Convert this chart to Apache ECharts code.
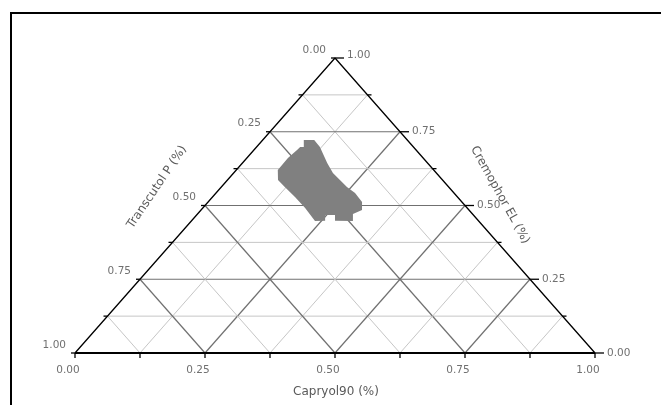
<!DOCTYPE html>
<html>
<head>
<meta charset="utf-8">
<script src="https://cdn.jsdelivr.net/npm/echarts@6/dist/echarts.min.js"></script>
<style>
html, body { margin: 0; padding: 0; background: #fff; }
#main { width: 661px; height: 405px; }
</style>
</head>
<body>
<div id="main"></div>
<script>
// 三元相图: Capryol90 / Transcutol P / Cremophor EL
var gridSteps = [0.125, 0.25, 0.375, 0.5, 0.625, 0.75, 0.875];
var tickValues = [0, 0.125, 0.25, 0.375, 0.5, 0.625, 0.75, 0.875, 1];
var labelValues = [0, 0.25, 0.5, 0.75, 1];
var tickLabels = ['0.00', '0.25', '0.50', '0.75', '1.00'];
var axisTitles = ['Capryol90 (%)', 'Transcutol P (%)', 'Cremophor EL (%)'];

// 灰色区域轮廓
var blobCapryol    = [0.079, 0.099, 0.122, 0.163, 0.191, 0.216, 0.242, 0.267, 0.296, 0.310, 0.299, 0.311, 0.276, 0.266, 0.247, 0.257, 0.238, 0.197, 0.159, 0.122, 0.097, 0.080, 0.079, 0.083, 0.084, 0.091];
var blobTranscutol = [0.199, 0.179, 0.180, 0.193, 0.199, 0.197, 0.196, 0.190, 0.192, 0.206, 0.230, 0.242, 0.276, 0.266, 0.285, 0.295, 0.315, 0.312, 0.313, 0.315, 0.316, 0.300, 0.260, 0.229, 0.218, 0.211];
var blobCremophor  = [0.722, 0.722, 0.698, 0.644, 0.610, 0.586, 0.563, 0.542, 0.512, 0.485, 0.471, 0.448, 0.448, 0.468, 0.468, 0.448, 0.448, 0.492, 0.529, 0.563, 0.586, 0.620, 0.661, 0.688, 0.698, 0.698];

// 三元坐标 -> 直角坐标
function tern(c, t, e) {
    var s = c + t + e;
    c = c / s; e = e / s;
    return [c + e / 2, e];
}
function isMajor(v) {
    return Math.abs(v * 4 - Math.round(v * 4)) < 1e-6 ? 1 : 0;
}

// 网格线
var gridLines = [];
gridSteps.forEach(function (v) {
    var m = isMajor(v);
    var a = tern(0, 1 - v, v), b = tern(1 - v, 0, v);          // Cremophor 等值
    gridLines.push([a[0], a[1], b[0], b[1], m]);
    a = tern(v, 1 - v, 0); b = tern(v, 0, 1 - v);              // Capryol 等值
    gridLines.push([a[0], a[1], b[0], b[1], m]);
    a = tern(1 - v, v, 0); b = tern(0, v, 1 - v);              // Transcutol 等值
    gridLines.push([a[0], a[1], b[0], b[1], m]);
});

// 刻度
var ticks = [];
tickValues.forEach(function (v) {
    var m = isMajor(v);
    var p = tern(v, 1 - v, 0); ticks.push([p[0], p[1], 0, m]);
    p = tern(0, v, 1 - v); ticks.push([p[0], p[1], 1, m]);
    p = tern(1 - v, 0, v); ticks.push([p[0], p[1], 2, m]);
});

// 刻度标签
var labels = [];
labelValues.forEach(function (v, i) {
    var p = tern(v, 1 - v, 0); labels.push([p[0], p[1], 0, i, v]);
    p = tern(0, v, 1 - v); labels.push([p[0], p[1], 1, i, v]);
    p = tern(1 - v, 0, v); labels.push([p[0], p[1], 2, i, v]);
});

var corners = [tern(0, 1, 0), tern(1, 0, 0), tern(0, 0, 1), tern(0, 1, 0)];
var blobPts = blobCapryol.map(function (c, i) {
    return tern(c, blobTranscutol[i], blobCremophor[i]);
});

var labelFont = '10.5px "DejaVu Sans"';
var labelColor = '#707070';
var titleFont = '12px "DejaVu Sans"';
var titleColor = '#5a5a5a';

var chart = echarts.init(document.getElementById('main'));
chart.setOption({
    animation: false,
    backgroundColor: '#fff',
    grid: { left: 75, top: 58, width: 520, height: 295 },
    xAxis: { type: 'value', min: 0, max: 1, show: false },
    yAxis: { type: 'value', min: 0, max: 1, show: false },
    graphic: [
        { type: 'line', shape: { x1: 11, y1: 13, x2: 661, y2: 13 }, style: { stroke: '#000', lineWidth: 2 } },
        { type: 'line', shape: { x1: 11, y1: 12, x2: 11, y2: 405 }, style: { stroke: '#000', lineWidth: 2 } },
        { type: 'text', x: 336, y: 392, style: { text: axisTitles[0], font: titleFont, fill: titleColor, align: 'center', verticalAlign: 'middle' } },
        { type: 'text', x: 157, y: 187, rotation: 56 * Math.PI / 180, style: { text: axisTitles[1], font: titleFont, fill: titleColor, align: 'center', verticalAlign: 'middle' } },
        { type: 'text', x: 500, y: 195, rotation: -61 * Math.PI / 180, style: { text: axisTitles[2], font: titleFont, fill: titleColor, align: 'center', verticalAlign: 'middle' } }
    ],
    series: [
        {
            type: 'custom',
            data: gridLines,
            silent: true,
            encode: { x: [0, 2], y: [1, 3] },
            renderItem: function (params, api) {
                var p1 = api.coord([api.value(0), api.value(1)]);
                var p2 = api.coord([api.value(2), api.value(3)]);
                var major = api.value(4) === 1;
                return {
                    type: 'line',
                    shape: { x1: p1[0], y1: p1[1], x2: p2[0], y2: p2[1] },
                    style: { stroke: major ? '#707070' : '#c6c6c6', lineWidth: major ? 1.2 : 1 }
                };
            },
            z: 1
        },
        {
            type: 'custom',
            data: [0],
            silent: true,
            renderItem: function (params, api) {
                var pts = blobPts.map(function (p) { return api.coord(p); });
                return { type: 'polygon', shape: { points: pts }, style: { fill: '#808080' } };
            },
            z: 2
        },
        {
            type: 'line',
            data: corners,
            symbol: 'none',
            silent: true,
            lineStyle: { color: '#000', width: 1.3 },
            z: 3
        },
        {
            type: 'line',
            data: [corners[0], corners[1]],
            symbol: 'none',
            silent: true,
            lineStyle: { color: '#000', width: 2 },
            z: 3
        },
        {
            type: 'custom',
            data: ticks,
            silent: true,
            renderItem: function (params, api) {
                var p = api.coord([api.value(0), api.value(1)]);
                var kind = api.value(2), major = api.value(3) === 1;
                var dx = 0, dy = 0;
                if (kind === 0) { dy = 5; }
                else if (kind === 1) { dx = -4; }
                else { dx = major ? 9 : 4; }
                return {
                    type: 'line',
                    shape: { x1: p[0], y1: p[1], x2: p[0] + dx, y2: p[1] + dy },
                    style: { stroke: '#000', lineWidth: 1.3 }
                };
            },
            z: 4
        },
        {
            type: 'custom',
            data: labels,
            silent: true,
            renderItem: function (params, api) {
                var p = api.coord([api.value(0), api.value(1)]);
                var kind = api.value(2), idx = api.value(3), v = api.value(4);
                var x, y, align;
                if (kind === 0) { x = p[0] - 7; y = p[1] + 17; align = 'center'; }
                else if (kind === 1) { x = p[0] - 9; y = p[1] - 8; align = 'right'; }
                else {
                    x = p[0] + 12; y = p[1]; align = 'left';
                    if (v === 1) { y = p[1] - 3; }
                }
                return {
                    type: 'text',
                    x: x, y: y,
                    style: { text: tickLabels[idx], font: labelFont, fill: labelColor, align: align, verticalAlign: 'middle' }
                };
            },
            z: 5
        }
    ]
});
</script>
</body>
</html>
